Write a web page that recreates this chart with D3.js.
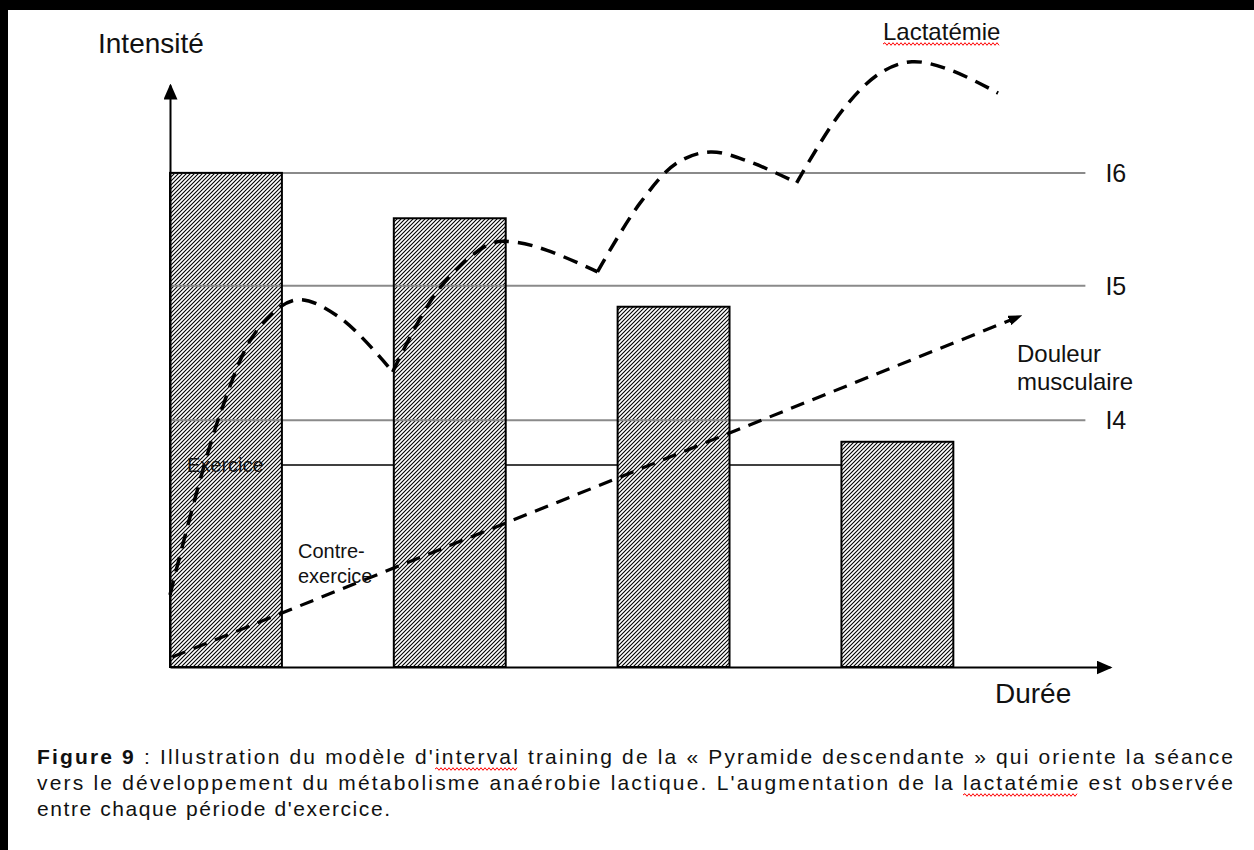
<!DOCTYPE html>
<html>
<head>
<meta charset="utf-8">
<script src="https://cdn.jsdelivr.net/npm/d3@7"></script>
<style>
  body { margin: 0; background: #000; }
  svg { display: block; }
  text { font-family: "Liberation Sans", Arial, sans-serif; fill: #111; }
</style>
</head>
<body>
<svg id="chart" width="1254" height="850"></svg>
<script>
// exercise periods (time units) and their intensity (0-100)
var barStarts = [0, 2, 4, 6];
var barDuration = 1;
var barIntensity = [84.9, 77.1, 61.9, 38.7];

// reference intensity levels
var levelNames = ["I6", "I5", "I4"];
var levelValues = [84.9, 65.5, 42.4];

// recovery (contre-exercice) level
var recoveryLevel = 34.7;

// lactatemia, one array per exercise + recovery cycle: [time, value]
var lactate1 = [[0.00, 12.4], [0.45, 43.6], [0.78, 57.9], [1.13, 63.1], [1.52, 60.0], [1.99, 50.7]];
var lactate2 = [[1.99, 50.7], [2.41, 65.1], [2.86, 72.7], [3.08, 73.0], [3.37, 71.6], [3.82, 67.9]];
var lactate3 = [[3.82, 67.9], [4.20, 79.7], [4.53, 86.6], [4.83, 88.5], [5.18, 86.8], [5.60, 83.2]];
var lactate4 = [[5.60, 83.2], [6.01, 95.7], [6.35, 102.1], [6.63, 104.0], [6.97, 102.6], [7.40, 98.6]];

// muscular pain trend
var douleur = [[0.02, 1.7], [7.6, 60.3]];

var captionLines = [
    "Illustration du modèle d'interval training de la « Pyramide descendante » qui oriente la séance",
    "vers le développement du métabolisme anaérobie lactique. L'augmentation de la lactatémie est observée",
    "entre chaque période d'exercice."
];

var svg = d3.select("#chart");
svg.append("rect").attr("x", 8).attr("y", 10).attr("width", 1246).attr("height", 840).attr("fill", "#fff");

var x = d3.scaleLinear().domain([0, 8.4]).range([170, 1110]);
var y = d3.scaleLinear().domain([0, 100]).range([667, 85]);

var defs = svg.append("defs");
var hatch = defs.append("pattern")
    .attr("id", "hatch")
    .attr("patternUnits", "userSpaceOnUse")
    .attr("width", 4).attr("height", 4);
hatch.append("rect").attr("width", 4).attr("height", 4).attr("fill", "#fff");
hatch.append("path")
    .attr("d", "M-1,1 l2,-2 M0,4 l4,-4 M3,5 l2,-2")
    .attr("stroke", "#000").attr("stroke-width", 1.1);

function arrowMarker(id, len, wid) {
    defs.append("marker")
        .attr("id", id)
        .attr("markerUnits", "userSpaceOnUse")
        .attr("viewBox", "0 0 " + len + " " + wid)
        .attr("markerWidth", len).attr("markerHeight", wid)
        .attr("refX", len - 2).attr("refY", wid / 2)
        .attr("orient", "auto")
        .append("path")
        .attr("d", "M0,0L" + len + "," + (wid / 2) + "L0," + wid + "Z")
        .attr("fill", "#000");
}
arrowMarker("axisArrow", 16, 14);
arrowMarker("painArrow", 14, 10);

// recovery line, sits behind the bars
svg.append("line")
    .attr("x1", x(barStarts[0] + barDuration)).attr("x2", x(barStarts[3]))
    .attr("y1", y(recoveryLevel)).attr("y2", y(recoveryLevel))
    .attr("stroke", "#000").attr("stroke-width", 1.5);

function barRects(cls) {
    return svg.append("g").attr("class", cls).selectAll("rect")
        .data(barStarts)
        .join("rect")
        .attr("x", function (d) { return x(d); })
        .attr("width", function () { return x(barDuration) - x(0); })
        .attr("y", function (d, i) { return y(barIntensity[i]); })
        .attr("height", function (d, i) { return y(0) - y(barIntensity[i]); });
}
barRects("bar-fill").attr("fill", "url(#hatch)");

// intensity levels
svg.append("g").selectAll("line")
    .data(levelValues)
    .join("line")
    .attr("x1", x(0)).attr("x2", x(8.18))
    .attr("y1", function (d) { return y(d); }).attr("y2", function (d) { return y(d); })
    .attr("stroke", "#8a8a8a").attr("stroke-width", 2);
svg.append("g").selectAll("text")
    .data(levelNames)
    .join("text")
    .attr("x", x(8.18) + 20)
    .attr("y", function (d, i) { return y(levelValues[i]) + 9; })
    .attr("font-size", 25)
    .text(function (d) { return d; });

// bar outlines over the level lines
barRects("bar-edge").attr("fill", "none").attr("stroke", "#000").attr("stroke-width", 2);

// axes
var xAxis = svg.append("g").attr("transform", "translate(0," + y(0) + ")")
    .call(d3.axisBottom(x).tickValues([]).tickSizeOuter(0));
var yAxis = svg.append("g").attr("transform", "translate(" + x(0) + ",0)")
    .call(d3.axisLeft(y).tickValues([]).tickSizeOuter(0));
[xAxis, yAxis].forEach(function (a) {
    a.select(".domain")
        .attr("stroke", "#000").attr("stroke-width", 2)
        .attr("marker-end", "url(#axisArrow)");
});

// lactatemia curve
var lineCurve = d3.line()
    .x(function (d) { return x(d[0]); })
    .y(function (d) { return y(d[1]); })
    .curve(d3.curveCatmullRom.alpha(0.5));
svg.append("path")
    .attr("d", [lactate1, lactate2, lactate3, lactate4].map(lineCurve).join(""))
    .attr("fill", "none").attr("stroke", "#000")
    .attr("stroke-width", 3.5).attr("stroke-dasharray", "15,9");

// muscular pain
var straight = d3.line()
    .x(function (d) { return x(d[0]); })
    .y(function (d) { return y(d[1]); });
svg.append("path")
    .attr("d", straight(douleur))
    .attr("fill", "none").attr("stroke", "#000")
    .attr("stroke-width", 3.2).attr("stroke-dasharray", "14,9")
    .attr("marker-end", "url(#painArrow)");

// labels
function label(txt, px, py, size) {
    return svg.append("text").attr("x", px).attr("y", py).attr("font-size", size).text(txt);
}
label("Intensité", 98, 53, 28);
label("Durée", 995, 703, 28);
label("Lactatémie", 883, 40, 24);
label("Douleur", 1017, 362, 24);
label("musculaire", 1017, 390, 24);
label("Exercice", 187, 472, 20);
label("Contre-", 298, 558, 20);
label("exercice", 298, 583, 20);

function wavy(x0, x1, yy) {
    var d = "M" + x0 + "," + yy;
    var up = true;
    for (var xx = x0 + 2; xx <= x1; xx += 2) {
        d += "L" + xx + "," + (yy + (up ? -1.3 : 1.3));
        up = !up;
    }
    svg.append("path").attr("d", d).attr("fill", "none")
        .attr("stroke", "#f00").attr("stroke-width", 1);
}
wavy(883, 1000, 44);

// caption
var capBase = [764, 790, 816];
var capWidth = [1196, 1196, 353];
var capNodes = captionLines.map(function (txt, i) {
    var t = svg.append("text")
        .attr("x", 37).attr("y", capBase[i])
        .attr("font-size", 21)
        .attr("textLength", capWidth[i])
        .attr("lengthAdjust", "spacing");
    if (i === 0) {
        t.append("tspan").attr("font-weight", "bold").text("Figure 9");
        t.append("tspan").text(" : " + txt);
    } else {
        t.text(txt);
    }
    return t;
});

function underlineWord(t, fullText, word, baseY) {
    var node = t.node();
    var idx = fullText.indexOf(word);
    if (idx < 0) return;
    var s = node.getStartPositionOfChar(idx).x;
    var e = node.getEndPositionOfChar(idx + word.length - 1).x;
    wavy(Math.round(s), Math.round(e), baseY + 5);
}
underlineWord(capNodes[0], "Figure 9 : " + captionLines[0], "interval", capBase[0]);
underlineWord(capNodes[1], captionLines[1], "lactatémie", capBase[1]);
</script>
</body>
</html>
